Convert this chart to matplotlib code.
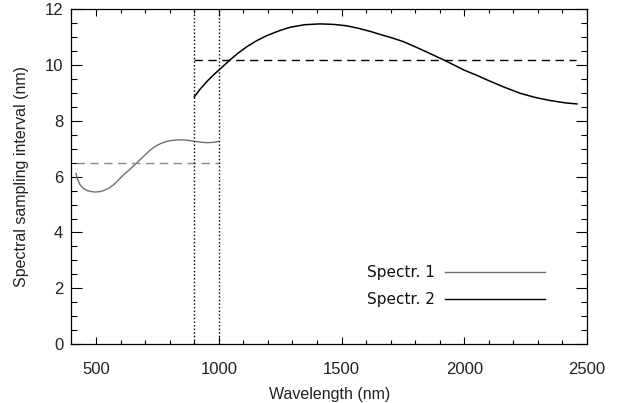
import matplotlib
matplotlib.use("Agg")
import matplotlib.pyplot as plt

# Spectrometer 1 (VNIR) sampling interval
wl_1 = [418, 425, 435, 447, 462, 478, 496, 512, 530, 550, 570, 590, 611, 640, 666, 695, 720,
        740, 761, 782, 802, 830, 856, 880, 900, 925, 951, 975, 998]
si_1 = [6.12, 5.90, 5.71, 5.59, 5.51, 5.47, 5.45, 5.46, 5.50, 5.58, 5.70, 5.87, 6.06, 6.28,
        6.50, 6.74, 6.95, 7.08, 7.18, 7.25, 7.29, 7.32, 7.32, 7.30, 7.27, 7.24, 7.22, 7.23, 7.26]

# Spectrometer 2 (SWIR) sampling interval
wl_2 = [900, 925, 951, 976, 1001, 1046, 1080, 1114, 1155, 1196, 1245, 1291, 1350, 1413, 1470,
        1522, 1570, 1617, 1658, 1705, 1753, 1800, 1850, 1923, 2000, 2050, 2093, 2160, 2228,
        2290, 2351, 2410, 2459]
si_2 = [8.86, 9.15, 9.41, 9.63, 9.83, 10.19, 10.44, 10.66, 10.88, 11.06, 11.23, 11.36, 11.45,
        11.48, 11.46, 11.41, 11.32, 11.21, 11.10, 10.98, 10.84, 10.66, 10.46, 10.16, 9.82,
        9.64, 9.47, 9.22, 8.99, 8.84, 8.73, 8.65, 8.61]

# Mean sampling intervals and their spans
mean_1 = 6.5
span_1 = [420, 1000]
mean_2 = 10.2
span_2 = [900, 2455]

# Spectral overlap boundaries
overlap = [900, 1000]

grey = "#707070"

plt.rcParams["font.family"] = ["Liberation Sans", "DejaVu Sans"]

fig = plt.figure(figsize=(6.19, 4.03), dpi=100)
ax = fig.add_axes([0.1155, 0.1464, 0.8328, 0.8303])

ax.plot(wl_1, si_1, color=grey, lw=1.0)
ax.plot(wl_2, si_2, color="black", lw=1.1)
ax.plot(span_1, [mean_1, mean_1], color="#888888", lw=1.0, dashes=(6, 4))
ax.plot(span_2, [mean_2, mean_2], color="black", lw=1.0, dashes=(6, 4))
for xv in overlap:
    ax.plot([xv, xv], [0, 12], color="black", lw=1.0, dashes=(1, 1.6))

ax.set_xlim(400, 2500)
ax.set_ylim(0, 12)
ax.set_xticks([500, 1000, 1500, 2000, 2500])
ax.set_xticks(range(400, 2501, 100), minor=True)
ax.set_yticks([0, 2, 4, 6, 8, 10, 12])
ax.set_yticks([v * 0.5 for v in range(25)], minor=True)

ax.tick_params(axis="both", which="both", direction="in", top=True, right=True,
               labelsize=12, colors="black", width=0.8)
ax.tick_params(axis="x", which="major", length=4.8, pad=13)
ax.tick_params(axis="x", which="minor", length=2.9)
ax.tick_params(axis="y", which="major", length=7.7, pad=6)
ax.tick_params(axis="y", which="minor", length=4.1)
for lab in ax.get_xticklabels() + ax.get_yticklabels():
    lab.set_color("#222222")
for sp in ax.spines.values():
    sp.set_linewidth(0.9)

ax.set_xlabel("Wavelength (nm)", fontsize=11.5, color="#222222", labelpad=7)
ax.set_ylabel("Spectral sampling interval (nm)", fontsize=11.5, color="#222222", labelpad=11)

# Legend: label on the left, line sample on the right
leg_items = [("Spectr. 1", grey), ("Spectr. 2", "black")]
for i, (name, col) in enumerate(leg_items):
    yy = 0.215 - i * 0.082
    ax.text(0.705, yy, name, transform=ax.transAxes, fontsize=11,
            family="DejaVu Sans", ha="right", va="center", color="#111111")
    ax.plot([0.725, 0.918], [yy, yy], transform=ax.transAxes, color=col, lw=1.0)

fig.savefig("out.png", dpi=100)
